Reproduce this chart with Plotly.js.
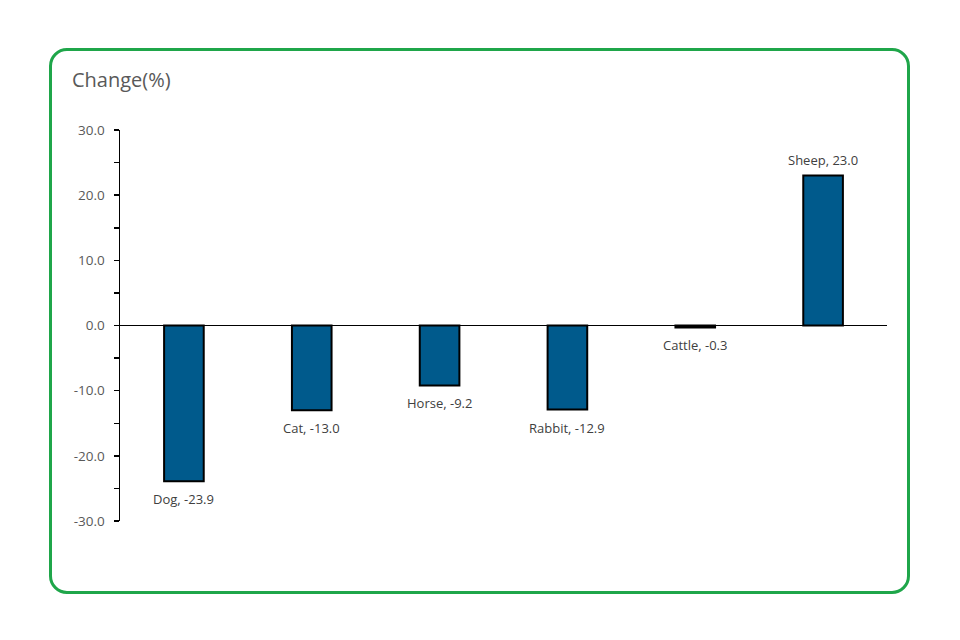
<!DOCTYPE html>
<html>
<head>
<meta charset="utf-8">
<script src="https://cdn.plot.ly/plotly-3.0.1.min.js"></script>
<style>
  html, body { margin: 0; padding: 0; background: #fff; }
  #wrap { position: relative; width: 960px; height: 640px; }
  #chart { width: 960px; height: 640px; }
  #frame { position: absolute; left: 49px; top: 48px; width: 855px; height: 540px;
           border: 3px solid #1fa64a; border-radius: 18px; pointer-events: none; }
</style>
</head>
<body>
<div id="wrap">
  <div id="chart"></div>
  <div id="frame"></div>
</div>
<script>
const categories = ["Dog", "Cat", "Horse", "Rabbit", "Cattle", "Sheep"];
const values = [-23.9, -13.0, -9.2, -12.9, -0.3, 23.0];
const tickValues = [-30, -20, -10, 0, 10, 20, 30];
const tickLabels = ["-30.0", "-20.0", "-10.0", "0.0", "10.0", "20.0", "30.0"];

const FONT = "Open Sans, Segoe UI, DejaVu Sans, sans-serif";

const trace = {
  type: "bar",
  x: categories,
  y: values,
  width: 0.31,
  marker: { color: "#005a8c", line: { color: "#000000", width: 2 } },
  hoverinfo: "none"
};

const annotations = categories.map((c, i) => ({
  x: c,
  y: values[i],
  xref: "x",
  yref: "y",
  text: c + ", " + values[i].toFixed(1),
  showarrow: false,
  yanchor: values[i] < 0 ? "top" : "bottom",
  yshift: values[i] < 0 ? -7 : 5,
  font: { family: FONT, size: 13, color: "#404040" }
}));

const layout = {
  width: 960,
  height: 640,
  margin: { l: 120, r: 73, t: 130, b: 119 },
  paper_bgcolor: "#ffffff",
  plot_bgcolor: "#ffffff",
  showlegend: false,
  font: { family: FONT },
  title: {
    text: "Change(%)",
    font: { family: FONT, size: 20, color: "#595959" },
    xref: "container",
    yref: "container",
    x: 72 / 960,
    xanchor: "left",
    y: 1 - 80 / 640,
    yanchor: "middle"
  },
  xaxis: {
    showticklabels: false,
    ticks: "",
    showline: false,
    showgrid: false,
    zeroline: false,
    fixedrange: true
  },
  yaxis: {
    range: [-30, 30],
    tickmode: "array",
    tickvals: tickValues,
    ticktext: tickLabels,
    ticks: "outside",
    ticklen: 5,
    tickwidth: 1.5,
    tickcolor: "#000000",
    showline: true,
    linecolor: "#000000",
    linewidth: 1.5,
    showgrid: false,
    zeroline: true,
    zerolinecolor: "#000000",
    zerolinewidth: 1.2,
    tickfont: { family: FONT, size: 13.5, color: "#595959" },
    ticklabelstandoff: 6,
    minor: { dtick: 5, ticks: "outside", ticklen: 5, tickwidth: 1.5, tickcolor: "#000000", showgrid: false },
    fixedrange: true
  },
  annotations: annotations
};

Plotly.newPlot("chart", [trace], layout, { displayModeBar: false, staticPlot: true });
</script>
</body>
</html>
